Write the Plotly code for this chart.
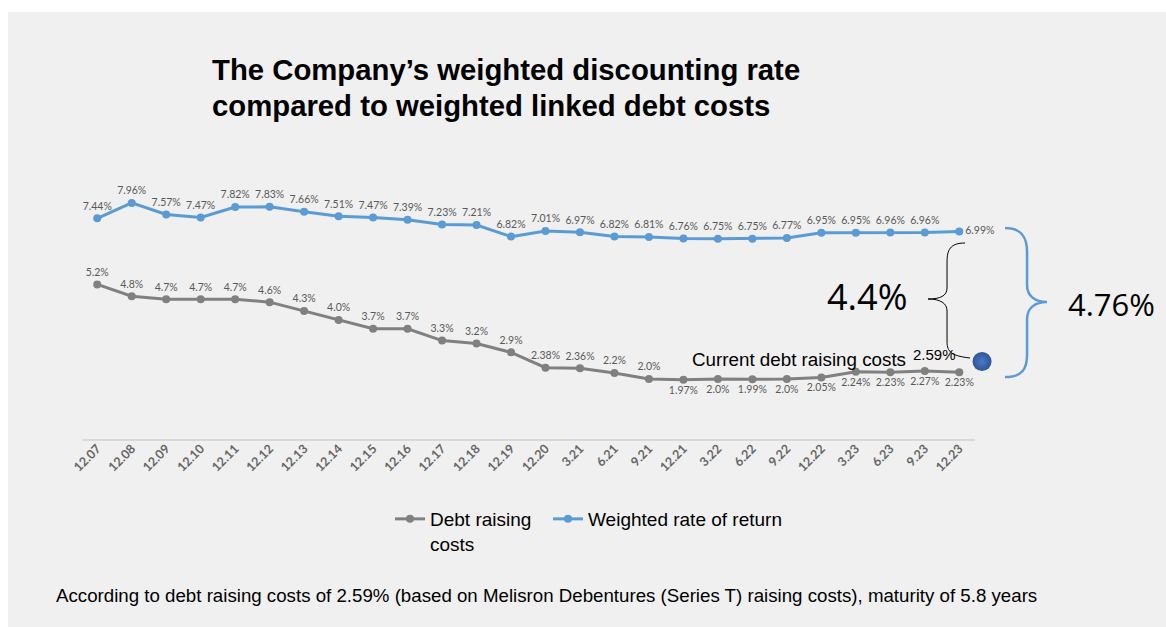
import plotly.graph_objects as go

periods = ["12.07", "12.08", "12.09", "12.10", "12.11", "12.12", "12.13", "12.14", "12.15",
           "12.16", "12.17", "12.18", "12.19", "12.20", "3.21", "6.21", "9.21", "12.21",
           "3.22", "6.22", "9.22", "12.22", "3.23", "6.23", "9.23", "12.23"]
weighted_return = [7.44, 7.96, 7.57, 7.47, 7.82, 7.83, 7.66, 7.51, 7.47, 7.39, 7.23, 7.21, 6.82,
                   7.01, 6.97, 6.82, 6.81, 6.76, 6.75, 6.75, 6.77, 6.95, 6.95, 6.96, 6.96, 6.99]
debt_costs = [5.2, 4.8, 4.7, 4.7, 4.7, 4.6, 4.3, 4.0, 3.7, 3.7, 3.3, 3.2, 2.9,
              2.38, 2.36, 2.2, 2.0, 1.97, 2.0, 1.99, 2.0, 2.05, 2.24, 2.23, 2.27, 2.23]
debt_labels = ["5.2%", "4.8%", "4.7%", "4.7%", "4.7%", "4.6%", "4.3%", "4.0%", "3.7%", "3.7%",
               "3.3%", "3.2%", "2.9%", "2.38%", "2.36%", "2.2%", "2.0%", "1.97%", "2.0%",
               "1.99%", "2.0%", "2.05%", "2.24%", "2.23%", "2.27%", "2.23%"]
current_debt_cost = 2.59
current_debt_pos = 25.66
gap_small = "4.4%"
gap_large = "4.76%"

# reference-screen geometry (body margin removed via post_script)
SW, SH = 1166, 627
X_MIN, X_MAX = -0.5, 26.5
Y_MIN, Y_MAX = 0, 8.5
L_REF, T_REF, B_REF = 80, 187, 438
STEP = 34.48
PW = (X_MAX - X_MIN) * STEP
PH = B_REF - T_REF
ML, MT = L_REF, T_REF
MR = SW - (ML + PW)
MB = SH - (MT + PH)


def px(x):
    return (x - L_REF) / PW


def py(y):
    return (B_REF - y) / PH


def path(cmds):
    out = []
    for c in cmds:
        if isinstance(c, str):
            out.append(c)
        else:
            out.append(f"{px(c[0]):.5f},{py(c[1]):.5f}")
    return " ".join(out)


idx = list(range(len(periods)))
label_color = "#595959"
BLUE = "#5b9bd5"
GRAY = "#808080"

debt_pos = ["top center" if i < 17 else "bottom center" for i in range(len(debt_costs))]
w_pos = ["top center"] * (len(periods) - 1) + ["middle right"]

fig = go.Figure()
fig.add_trace(go.Scatter(
    x=idx, y=debt_costs, mode="lines+markers+text", name="Debt raising<br>costs",
    line=dict(color=GRAY, width=3), marker=dict(color=GRAY, size=8),
    text=debt_labels, textposition=debt_pos,
    textfont=dict(family="Lato, Arial", size=10.5, color=label_color),
    cliponaxis=False, legend="legend",
))
fig.add_trace(go.Scatter(
    x=idx, y=weighted_return, mode="lines+markers+text", name="Weighted rate of return",
    line=dict(color=BLUE, width=3), marker=dict(color=BLUE, size=8),
    text=[f"{v:.2f}%" for v in weighted_return], textposition=w_pos,
    textfont=dict(family="Lato, Arial", size=10.5, color=label_color),
    cliponaxis=False, legend="legend2",
))
fig.add_trace(go.Scatter(
    x=[current_debt_pos], y=[current_debt_cost], mode="markers", showlegend=False,
    marker=dict(size=19, color="#2f5597",
                gradient=dict(type="radial", color="#4a78c8")),
    cliponaxis=False,
))

shapes = [
    dict(type="rect", xref="paper", yref="paper", x0=px(8), x1=px(1180), y0=py(12), y1=py(640),
         fillcolor="#f0f0f0", line=dict(width=0), layer="below"),
    dict(type="line", xref="paper", yref="paper", x0=px(82), x1=px(975), y0=py(440), y1=py(440),
         line=dict(color="#d9d9d9", width=2), layer="below"),
    dict(type="path", xref="paper", yref="paper", layer="above",
         path=path(["M", (965, 243), "C", (950, 243), (947, 250), (947, 262), "L", (947, 288),
                    "C", (947, 296), (940, 299), (928, 299), "C", (940, 299), (947, 303), (947, 311),
                    "L", (947, 342), "C", (947, 352), (952, 356), (970, 358)]),
         line=dict(color="#000000", width=1)),
    dict(type="path", xref="paper", yref="paper", layer="above",
         path=path(["M", (1005, 228), "C", (1022, 228), (1027, 238), (1027, 252), "L", (1027, 285),
                    "C", (1027, 296), (1035, 302), (1047, 302), "C", (1035, 302), (1027, 308), (1027, 319),
                    "L", (1027, 355), "C", (1027, 369), (1022, 377), (1005, 377)]),
         line=dict(color=BLUE, width=2.5)),
]

title_font = dict(family="Arial", size=29.3, color="#000000")
annotations = [
    dict(xref="paper", yref="paper", x=px(210), y=py(70), xanchor="left", yanchor="middle",
         showarrow=False, text="<b>The Company’s weighted discounting rate</b>", font=title_font),
    dict(xref="paper", yref="paper", x=px(210), y=py(105), xanchor="left", yanchor="middle",
         showarrow=False, text="<b>compared to weighted linked debt costs</b>", font=title_font),
    dict(xref="paper", yref="paper", x=px(54), y=py(595), xanchor="left", yanchor="middle", showarrow=False,
         text="According to debt raising costs of 2.59% (based on Melisron Debentures (Series T) raising costs), maturity of 5.8 years",
         font=dict(family="Arial", size=18.7, color="#000000")),
    dict(xref="paper", yref="paper", x=px(867), y=py(296), xanchor="center", yanchor="middle", showarrow=False,
         text=gap_small, font=dict(family="Open Sans", size=36, color="#000000")),
    dict(xref="paper", yref="paper", x=px(1111), y=py(304), xanchor="center", yanchor="middle", showarrow=False,
         text=gap_large, font=dict(family="Open Sans", size=31, color="#000000")),
    dict(xref="paper", yref="paper", x=px(799), y=py(359), xanchor="center", yanchor="middle", showarrow=False,
         text="Current debt raising costs", font=dict(family="Arial", size=18.8, color="#000000")),
    dict(xref="x", yref="y", x=current_debt_pos, y=current_debt_cost, xanchor="right", yanchor="middle",
         xshift=-24, yshift=7, showarrow=False,
         text=f"{current_debt_cost:.2f}%", font=dict(family="Arial", size=15, color="#000000")),
]

legend_font = dict(family="Arial", size=19, color="#000000")
fig.update_layout(
    width=SW, height=SH,
    margin=dict(l=ML, r=MR, t=MT, b=MB, autoexpand=False),
    paper_bgcolor="#ffffff", plot_bgcolor="rgba(0,0,0,0)",
    shapes=shapes, annotations=annotations,
    showlegend=True,
    legend=dict(orientation="h", x=px(390), y=py(500), xanchor="left", yanchor="top",
                valign="top", font=legend_font, bgcolor="rgba(0,0,0,0)"),
    legend2=dict(orientation="h", x=px(548), y=py(500), xanchor="left", yanchor="top",
                 valign="top", font=legend_font, bgcolor="rgba(0,0,0,0)"),
    xaxis=dict(range=[X_MIN, X_MAX], tickmode="array", tickvals=idx, ticktext=periods,
               tickangle=-45, showgrid=False, zeroline=False, showline=False, ticks="",
               tickfont=dict(family="Lato, Arial", size=12.5, weight="bold", color="#666666")),
    yaxis=dict(range=[Y_MIN, Y_MAX], visible=False, showgrid=False, zeroline=False),
)

fig.write_html("out.html", config={"displayModeBar": False},
               post_script="document.body.style.margin='0';document.body.style.overflow='hidden';")
